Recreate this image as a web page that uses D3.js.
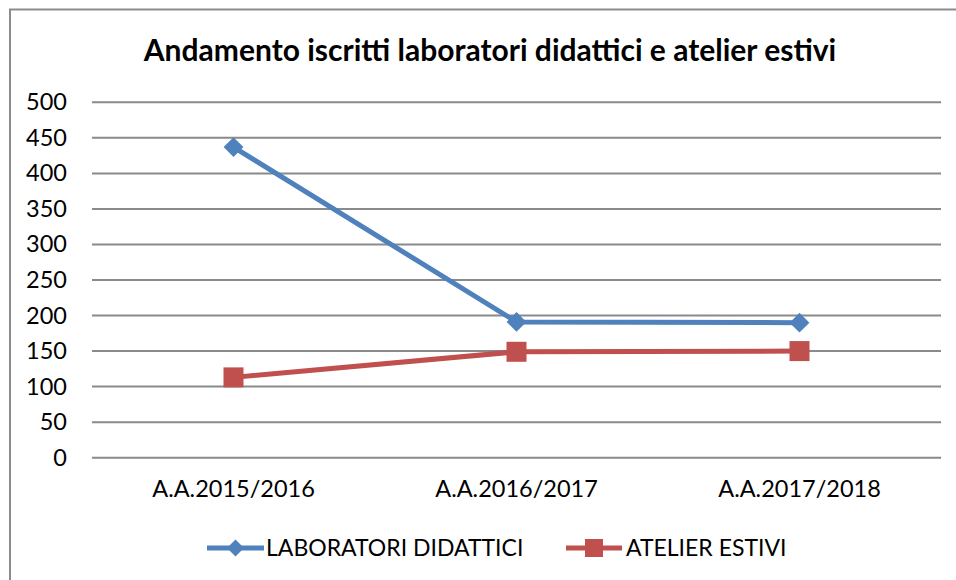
<!DOCTYPE html>
<html><head><meta charset="utf-8">
<script src="https://cdn.jsdelivr.net/npm/d3@7"></script>
<style>body{margin:0;background:#fff}svg{display:block}text{font-family:Lato,"Open Sans",sans-serif;fill:#000}</style>
</head><body>
<script>
const categories = ["A.A.2015/2016", "A.A.2016/2017", "A.A.2017/2018"];
const laboratori = [437, 191, 190];
const atelier = [113, 149, 150];
const yTicks = [0, 50, 100, 150, 200, 250, 300, 350, 400, 450, 500];
const seriesNames = ["LABORATORI DIDATTICI", "ATELIER ESTIVI"];
const colors = ["#4F81BD", "#C0504D"];

const W = 956, H = 580;
const svg = d3.select("body").append("svg").attr("width", W).attr("height", H);

svg.append("rect").attr("x", 10).attr("y", 9.5).attr("width", 960).attr("height", 600)
  .attr("fill", "none").attr("stroke", "#8c8c8c").attr("stroke-width", 2);

const x = d3.scaleBand().domain(categories).range([92, 941]).padding(0);
const y = d3.scaleLinear().domain([0, 500]).range([457.7, 102.3]);

svg.append("g").selectAll("line").data(yTicks).join("line")
  .attr("x1", 92).attr("x2", 941)
  .attr("y1", d => y(d)).attr("y2", d => y(d))
  .attr("stroke", "#8a8a8a").attr("stroke-width", 2);

const yAxis = d3.axisLeft(y).tickValues(yTicks).tickSize(0).tickPadding(25);
const gy = svg.append("g").attr("transform", "translate(92,0)").call(yAxis);
gy.select(".domain").remove();
gy.selectAll("text").style("font-size", "23.5px").attr("fill", "#000").attr("font-family", "Lato");

const xAxis = d3.axisBottom(x).tickSize(0).tickPadding(23);
const gx = svg.append("g").attr("transform", "translate(0,457.7)").call(xAxis);
gx.select(".domain").remove();
gx.selectAll("text").style("font-size", "23.5px").attr("fill", "#000").attr("font-family", "Lato");

svg.append("text").attr("x", 490).attr("y", 61).attr("text-anchor", "middle")
  .style("font-size", "30px").style("font-weight", "bold")
  .text("Andamento iscritti laboratori didattici e atelier estivi");

const line = d3.line().x((d, i) => x(categories[i]) + x.bandwidth() / 2).y(d => y(d));
const diamond = d3.symbol().type(d3.symbolSquare).size(14 * 14);
const diamondSmall = d3.symbol().type(d3.symbolSquare).size(12 * 12);

svg.append("path").datum(laboratori).attr("d", line).attr("fill", "none")
  .attr("stroke", colors[0]).attr("stroke-width", 5).attr("stroke-linejoin", "round");
svg.append("path").datum(atelier).attr("d", line).attr("fill", "none")
  .attr("stroke", colors[1]).attr("stroke-width", 5).attr("stroke-linejoin", "round");

svg.append("g").selectAll("path").data(laboratori).join("path")
  .attr("d", diamond)
  .attr("transform", (d, i) => `translate(${x(categories[i]) + x.bandwidth() / 2},${y(d)}) rotate(45)`)
  .attr("fill", colors[0]);
svg.append("g").selectAll("rect").data(atelier).join("rect")
  .attr("x", (d, i) => x(categories[i]) + x.bandwidth() / 2 - 10)
  .attr("y", d => y(d) - 10).attr("width", 20).attr("height", 20)
  .attr("fill", colors[1]);

const legY = 548;
const leg = [
  {x0: 207, x1: 264, tx: 266},
  {x0: 566, x1: 622, tx: 626}
];
leg.forEach((l, i) => {
  svg.append("line").attr("x1", l.x0).attr("x2", l.x1).attr("y1", legY).attr("y2", legY)
    .attr("stroke", colors[i]).attr("stroke-width", 5);
  const cx = (l.x0 + l.x1) / 2;
  if (i === 0) {
    svg.append("path").attr("d", diamondSmall).attr("transform", `translate(${cx},${legY}) rotate(45)`).attr("fill", colors[0]);
  } else {
    svg.append("rect").attr("x", cx - 9).attr("y", legY - 9).attr("width", 18).attr("height", 18).attr("fill", colors[1]);
  }
  svg.append("text").attr("x", l.tx).attr("y", legY).attr("dy", "0.35em")
    .style("font-size", "23px").text(seriesNames[i]);
});
</script>
</body></html>
